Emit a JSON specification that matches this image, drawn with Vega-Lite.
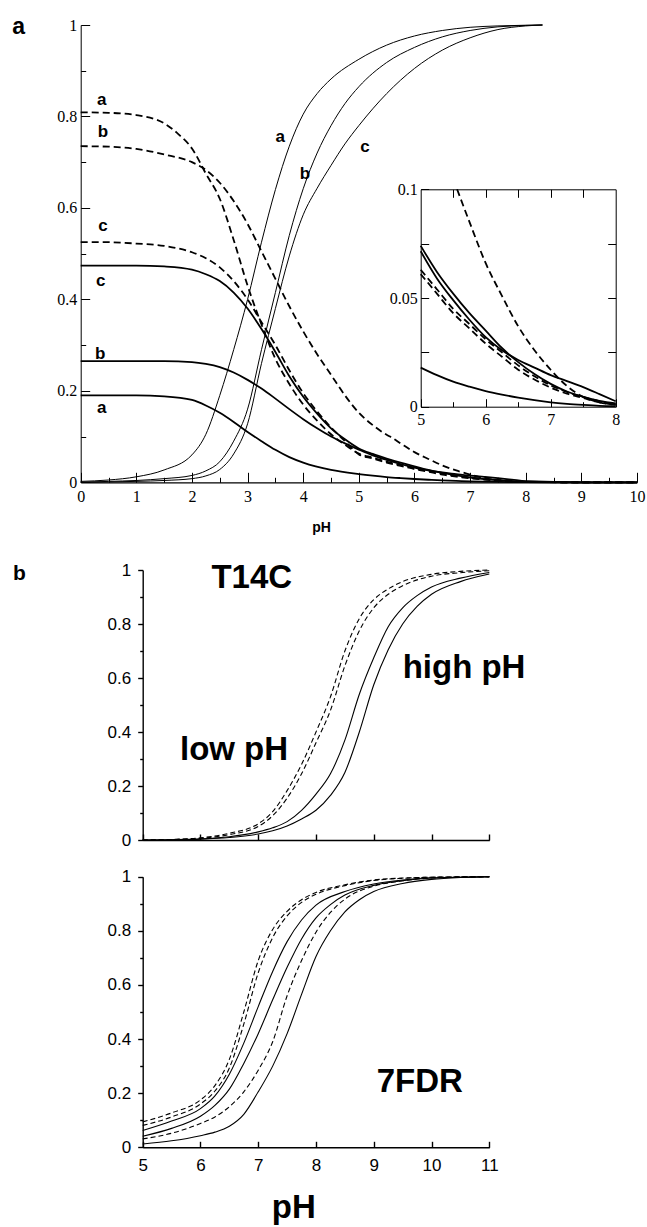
{
"$schema":"https://vega.github.io/schema/vega-lite/v6.json",
"width":647,"height":1227,"autosize":"none","padding":0,"background":"white",
"config":{"view":{"stroke":null},"axis":{"grid":false,"domainColor":"black","tickColor":"black","labelColor":"black","titleColor":"black","labelFlush":false,"labelOverlap":false,"labelBound":false}},
"datasets":{
"pa":[
{"set":"S1","curve":"a","pH":0,"f":0.002},{"set":"S1","curve":"a","pH":0.5,"f":0.005},{"set":"S1","curve":"a","pH":1,"f":0.012},{"set":"S1","curve":"a","pH":1.5,"f":0.027},{"set":"S1","curve":"a","pH":2,"f":0.06},{"set":"S1","curve":"a","pH":2.25,"f":0.105},{"set":"S1","curve":"a","pH":2.5,"f":0.19},{"set":"S1","curve":"a","pH":2.75,"f":0.29},{"set":"S1","curve":"a","pH":3,"f":0.4},{"set":"S1","curve":"a","pH":3.25,"f":0.525},{"set":"S1","curve":"a","pH":3.5,"f":0.64},{"set":"S1","curve":"a","pH":3.75,"f":0.735},{"set":"S1","curve":"a","pH":4,"f":0.805},{"set":"S1","curve":"a","pH":4.25,"f":0.85},{"set":"S1","curve":"a","pH":4.5,"f":0.882},{"set":"S1","curve":"a","pH":5,"f":0.925},{"set":"S1","curve":"a","pH":5.5,"f":0.956},{"set":"S1","curve":"a","pH":6,"f":0.976},{"set":"S1","curve":"a","pH":6.5,"f":0.988},{"set":"S1","curve":"a","pH":7,"f":0.995},{"set":"S1","curve":"a","pH":7.5,"f":0.998},{"set":"S1","curve":"a","pH":8,"f":0.9995},{"set":"S1","curve":"a","pH":8.3,"f":1},
{"set":"S1","curve":"b","pH":0,"f":0},{"set":"S1","curve":"b","pH":0.5,"f":0.002},{"set":"S1","curve":"b","pH":1,"f":0.004},{"set":"S1","curve":"b","pH":1.5,"f":0.008},{"set":"S1","curve":"b","pH":2,"f":0.015},{"set":"S1","curve":"b","pH":2.25,"f":0.025},{"set":"S1","curve":"b","pH":2.5,"f":0.045},{"set":"S1","curve":"b","pH":2.75,"f":0.09},{"set":"S1","curve":"b","pH":3,"f":0.16},{"set":"S1","curve":"b","pH":3.25,"f":0.29},{"set":"S1","curve":"b","pH":3.5,"f":0.415},{"set":"S1","curve":"b","pH":3.75,"f":0.54},{"set":"S1","curve":"b","pH":4,"f":0.642},{"set":"S1","curve":"b","pH":4.25,"f":0.72},{"set":"S1","curve":"b","pH":4.5,"f":0.78},{"set":"S1","curve":"b","pH":4.75,"f":0.828},{"set":"S1","curve":"b","pH":5,"f":0.865},{"set":"S1","curve":"b","pH":5.5,"f":0.918},{"set":"S1","curve":"b","pH":6,"f":0.951},{"set":"S1","curve":"b","pH":6.5,"f":0.974},{"set":"S1","curve":"b","pH":7,"f":0.988},{"set":"S1","curve":"b","pH":7.5,"f":0.996},{"set":"S1","curve":"b","pH":8,"f":0.999},{"set":"S1","curve":"b","pH":8.3,"f":1},
{"set":"S1","curve":"c","pH":0,"f":0},{"set":"S1","curve":"c","pH":1,"f":0.002},{"set":"S1","curve":"c","pH":1.5,"f":0.004},{"set":"S1","curve":"c","pH":2,"f":0.008},{"set":"S1","curve":"c","pH":2.25,"f":0.014},{"set":"S1","curve":"c","pH":2.5,"f":0.028},{"set":"S1","curve":"c","pH":2.75,"f":0.062},{"set":"S1","curve":"c","pH":3,"f":0.128},{"set":"S1","curve":"c","pH":3.25,"f":0.26},{"set":"S1","curve":"c","pH":3.5,"f":0.38},{"set":"S1","curve":"c","pH":3.75,"f":0.495},{"set":"S1","curve":"c","pH":4,"f":0.585},{"set":"S1","curve":"c","pH":4.25,"f":0.643},{"set":"S1","curve":"c","pH":4.5,"f":0.693},{"set":"S1","curve":"c","pH":4.75,"f":0.74},{"set":"S1","curve":"c","pH":5,"f":0.78},{"set":"S1","curve":"c","pH":5.5,"f":0.85},{"set":"S1","curve":"c","pH":6,"f":0.905},{"set":"S1","curve":"c","pH":6.5,"f":0.945},{"set":"S1","curve":"c","pH":7,"f":0.972},{"set":"S1","curve":"c","pH":7.5,"f":0.99},{"set":"S1","curve":"c","pH":8,"f":0.998},{"set":"S1","curve":"c","pH":8.3,"f":1},
{"set":"S2","curve":"a","pH":0,"f":0.19},{"set":"S2","curve":"a","pH":0.5,"f":0.19},{"set":"S2","curve":"a","pH":1,"f":0.19},{"set":"S2","curve":"a","pH":1.5,"f":0.188},{"set":"S2","curve":"a","pH":2,"f":0.18},{"set":"S2","curve":"a","pH":2.25,"f":0.168},{"set":"S2","curve":"a","pH":2.5,"f":0.152},{"set":"S2","curve":"a","pH":2.75,"f":0.132},{"set":"S2","curve":"a","pH":3,"f":0.11},{"set":"S2","curve":"a","pH":3.25,"f":0.09},{"set":"S2","curve":"a","pH":3.5,"f":0.071},{"set":"S2","curve":"a","pH":3.75,"f":0.055},{"set":"S2","curve":"a","pH":4,"f":0.043},{"set":"S2","curve":"a","pH":4.5,"f":0.027},{"set":"S2","curve":"a","pH":5,"f":0.018},{"set":"S2","curve":"a","pH":5.25,"f":0.0145},{"set":"S2","curve":"a","pH":5.5,"f":0.0115},{"set":"S2","curve":"a","pH":5.75,"f":0.0092},{"set":"S2","curve":"a","pH":6,"f":0.0072},{"set":"S2","curve":"a","pH":6.25,"f":0.0056},{"set":"S2","curve":"a","pH":6.5,"f":0.0042},{"set":"S2","curve":"a","pH":6.75,"f":0.003},{"set":"S2","curve":"a","pH":7,"f":0.002},{"set":"S2","curve":"a","pH":7.25,"f":0.0013},{"set":"S2","curve":"a","pH":7.5,"f":0.0008},{"set":"S2","curve":"a","pH":7.75,"f":0.0004},{"set":"S2","curve":"a","pH":8,"f":0.0002},{"set":"S2","curve":"a","pH":9,"f":0},{"set":"S2","curve":"a","pH":10,"f":0},
{"set":"S2","curve":"b","pH":0,"f":0.265},{"set":"S2","curve":"b","pH":1,"f":0.265},{"set":"S2","curve":"b","pH":1.5,"f":0.265},{"set":"S2","curve":"b","pH":2,"f":0.263},{"set":"S2","curve":"b","pH":2.25,"f":0.259},{"set":"S2","curve":"b","pH":2.5,"f":0.252},{"set":"S2","curve":"b","pH":2.75,"f":0.24},{"set":"S2","curve":"b","pH":3,"f":0.224},{"set":"S2","curve":"b","pH":3.25,"f":0.205},{"set":"S2","curve":"b","pH":3.5,"f":0.183},{"set":"S2","curve":"b","pH":3.75,"f":0.16},{"set":"S2","curve":"b","pH":4,"f":0.138},{"set":"S2","curve":"b","pH":4.25,"f":0.118},{"set":"S2","curve":"b","pH":4.5,"f":0.1},{"set":"S2","curve":"b","pH":4.75,"f":0.085},{"set":"S2","curve":"b","pH":5,"f":0.0715},{"set":"S2","curve":"b","pH":5.25,"f":0.059},{"set":"S2","curve":"b","pH":5.5,"f":0.049},{"set":"S2","curve":"b","pH":5.75,"f":0.04},{"set":"S2","curve":"b","pH":6,"f":0.032},{"set":"S2","curve":"b","pH":6.25,"f":0.026},{"set":"S2","curve":"b","pH":6.5,"f":0.0215},{"set":"S2","curve":"b","pH":6.75,"f":0.018},{"set":"S2","curve":"b","pH":7,"f":0.0145},{"set":"S2","curve":"b","pH":7.25,"f":0.0118},{"set":"S2","curve":"b","pH":7.5,"f":0.009},{"set":"S2","curve":"b","pH":7.75,"f":0.0058},{"set":"S2","curve":"b","pH":8,"f":0.0025},{"set":"S2","curve":"b","pH":9,"f":0},{"set":"S2","curve":"b","pH":10,"f":0},
{"set":"S2","curve":"c","pH":0,"f":0.474},{"set":"S2","curve":"c","pH":1,"f":0.474},{"set":"S2","curve":"c","pH":1.5,"f":0.472},{"set":"S2","curve":"c","pH":2,"f":0.465},{"set":"S2","curve":"c","pH":2.25,"f":0.455},{"set":"S2","curve":"c","pH":2.5,"f":0.44},{"set":"S2","curve":"c","pH":2.75,"f":0.415},{"set":"S2","curve":"c","pH":3,"f":0.38},{"set":"S2","curve":"c","pH":3.25,"f":0.335},{"set":"S2","curve":"c","pH":3.5,"f":0.285},{"set":"S2","curve":"c","pH":3.75,"f":0.232},{"set":"S2","curve":"c","pH":4,"f":0.187},{"set":"S2","curve":"c","pH":4.25,"f":0.15},{"set":"S2","curve":"c","pH":4.5,"f":0.118},{"set":"S2","curve":"c","pH":4.75,"f":0.094},{"set":"S2","curve":"c","pH":5,"f":0.074},{"set":"S2","curve":"c","pH":5.25,"f":0.062},{"set":"S2","curve":"c","pH":5.5,"f":0.052},{"set":"S2","curve":"c","pH":5.75,"f":0.043},{"set":"S2","curve":"c","pH":6,"f":0.035},{"set":"S2","curve":"c","pH":6.25,"f":0.027},{"set":"S2","curve":"c","pH":6.5,"f":0.0205},{"set":"S2","curve":"c","pH":6.75,"f":0.015},{"set":"S2","curve":"c","pH":7,"f":0.0105},{"set":"S2","curve":"c","pH":7.25,"f":0.007},{"set":"S2","curve":"c","pH":7.5,"f":0.0045},{"set":"S2","curve":"c","pH":7.75,"f":0.0027},{"set":"S2","curve":"c","pH":8,"f":0.0015},{"set":"S2","curve":"c","pH":9,"f":0},{"set":"S2","curve":"c","pH":10,"f":0},
{"set":"S3","curve":"a","pH":0,"f":0.809},{"set":"S3","curve":"a","pH":0.5,"f":0.808},{"set":"S3","curve":"a","pH":1,"f":0.803},{"set":"S3","curve":"a","pH":1.5,"f":0.785},{"set":"S3","curve":"a","pH":1.75,"f":0.762},{"set":"S3","curve":"a","pH":2,"f":0.73},{"set":"S3","curve":"a","pH":2.25,"f":0.675},{"set":"S3","curve":"a","pH":2.5,"f":0.62},{"set":"S3","curve":"a","pH":2.75,"f":0.53},{"set":"S3","curve":"a","pH":3,"f":0.43},{"set":"S3","curve":"a","pH":3.25,"f":0.345},{"set":"S3","curve":"a","pH":3.5,"f":0.27},{"set":"S3","curve":"a","pH":3.75,"f":0.215},{"set":"S3","curve":"a","pH":4,"f":0.17},{"set":"S3","curve":"a","pH":4.25,"f":0.135},{"set":"S3","curve":"a","pH":4.5,"f":0.105},{"set":"S3","curve":"a","pH":4.75,"f":0.082},{"set":"S3","curve":"a","pH":5,"f":0.063},{"set":"S3","curve":"a","pH":5.25,"f":0.054},{"set":"S3","curve":"a","pH":5.5,"f":0.045},{"set":"S3","curve":"a","pH":5.75,"f":0.038},{"set":"S3","curve":"a","pH":6,"f":0.031},{"set":"S3","curve":"a","pH":6.25,"f":0.025},{"set":"S3","curve":"a","pH":6.5,"f":0.019},{"set":"S3","curve":"a","pH":6.75,"f":0.014},{"set":"S3","curve":"a","pH":7,"f":0.0098},{"set":"S3","curve":"a","pH":7.25,"f":0.0068},{"set":"S3","curve":"a","pH":7.5,"f":0.0045},{"set":"S3","curve":"a","pH":7.75,"f":0.0025},{"set":"S3","curve":"a","pH":8,"f":0.001},{"set":"S3","curve":"a","pH":9,"f":0},{"set":"S3","curve":"a","pH":10,"f":0},
{"set":"S3","curve":"b","pH":0,"f":0.735},{"set":"S3","curve":"b","pH":0.5,"f":0.734},{"set":"S3","curve":"b","pH":1,"f":0.729},{"set":"S3","curve":"b","pH":1.5,"f":0.717},{"set":"S3","curve":"b","pH":2,"f":0.7},{"set":"S3","curve":"b","pH":2.25,"f":0.683},{"set":"S3","curve":"b","pH":2.5,"f":0.655},{"set":"S3","curve":"b","pH":2.75,"f":0.615},{"set":"S3","curve":"b","pH":3,"f":0.565},{"set":"S3","curve":"b","pH":3.25,"f":0.505},{"set":"S3","curve":"b","pH":3.5,"f":0.445},{"set":"S3","curve":"b","pH":3.75,"f":0.385},{"set":"S3","curve":"b","pH":4,"f":0.33},{"set":"S3","curve":"b","pH":4.25,"f":0.28},{"set":"S3","curve":"b","pH":4.5,"f":0.235},{"set":"S3","curve":"b","pH":4.75,"f":0.19},{"set":"S3","curve":"b","pH":5,"f":0.152},{"set":"S3","curve":"b","pH":5.25,"f":0.125},{"set":"S3","curve":"b","pH":5.5,"f":0.104},{"set":"S3","curve":"b","pH":5.56,"f":0.1},{"set":"S3","curve":"b","pH":5.75,"f":0.085},{"set":"S3","curve":"b","pH":6,"f":0.066},{"set":"S3","curve":"b","pH":6.25,"f":0.051},{"set":"S3","curve":"b","pH":6.5,"f":0.037},{"set":"S3","curve":"b","pH":6.75,"f":0.026},{"set":"S3","curve":"b","pH":7,"f":0.017},{"set":"S3","curve":"b","pH":7.25,"f":0.0095},{"set":"S3","curve":"b","pH":7.5,"f":0.0045},{"set":"S3","curve":"b","pH":7.75,"f":0.002},{"set":"S3","curve":"b","pH":8,"f":0.001},{"set":"S3","curve":"b","pH":9,"f":0},{"set":"S3","curve":"b","pH":10,"f":0},
{"set":"S3","curve":"c","pH":0,"f":0.525},{"set":"S3","curve":"c","pH":0.5,"f":0.525},{"set":"S3","curve":"c","pH":1,"f":0.522},{"set":"S3","curve":"c","pH":1.5,"f":0.517},{"set":"S3","curve":"c","pH":2,"f":0.503},{"set":"S3","curve":"c","pH":2.25,"f":0.49},{"set":"S3","curve":"c","pH":2.5,"f":0.47},{"set":"S3","curve":"c","pH":2.75,"f":0.44},{"set":"S3","curve":"c","pH":3,"f":0.4},{"set":"S3","curve":"c","pH":3.25,"f":0.35},{"set":"S3","curve":"c","pH":3.5,"f":0.3},{"set":"S3","curve":"c","pH":3.75,"f":0.245},{"set":"S3","curve":"c","pH":4,"f":0.195},{"set":"S3","curve":"c","pH":4.25,"f":0.155},{"set":"S3","curve":"c","pH":4.5,"f":0.12},{"set":"S3","curve":"c","pH":4.75,"f":0.09},{"set":"S3","curve":"c","pH":5,"f":0.061},{"set":"S3","curve":"c","pH":5.25,"f":0.052},{"set":"S3","curve":"c","pH":5.5,"f":0.043},{"set":"S3","curve":"c","pH":5.75,"f":0.036},{"set":"S3","curve":"c","pH":6,"f":0.029},{"set":"S3","curve":"c","pH":6.25,"f":0.023},{"set":"S3","curve":"c","pH":6.5,"f":0.017},{"set":"S3","curve":"c","pH":6.75,"f":0.0125},{"set":"S3","curve":"c","pH":7,"f":0.0088},{"set":"S3","curve":"c","pH":7.25,"f":0.006},{"set":"S3","curve":"c","pH":7.5,"f":0.004},{"set":"S3","curve":"c","pH":7.75,"f":0.002},{"set":"S3","curve":"c","pH":8,"f":0.0008},{"set":"S3","curve":"c","pH":9,"f":0},{"set":"S3","curve":"c","pH":10,"f":0}
],
"paLabels":[
{"t":"a","pH":0.38,"f":0.836},{"t":"b","pH":0.4,"f":0.765},{"t":"c","pH":0.4,"f":0.56},{"t":"c","pH":0.36,"f":0.44},{"t":"b","pH":0.35,"f":0.281},{"t":"a","pH":0.38,"f":0.162},{"t":"a","pH":3.585,"f":0.756},{"t":"b","pH":4.03,"f":0.674},{"t":"c","pH":5.11,"f":0.734}
],
"pb":[
{"panel":"T14C","model":"low pH","curve":"1","pH":5,"f":0},{"panel":"T14C","model":"low pH","curve":"1","pH":5.5,"f":0.002},{"panel":"T14C","model":"low pH","curve":"1","pH":6,"f":0.008},{"panel":"T14C","model":"low pH","curve":"1","pH":6.5,"f":0.025},{"panel":"T14C","model":"low pH","curve":"1","pH":7,"f":0.06},{"panel":"T14C","model":"low pH","curve":"1","pH":7.25,"f":0.105},{"panel":"T14C","model":"low pH","curve":"1","pH":7.5,"f":0.183},{"panel":"T14C","model":"low pH","curve":"1","pH":7.75,"f":0.28},{"panel":"T14C","model":"low pH","curve":"1","pH":8,"f":0.4},{"panel":"T14C","model":"low pH","curve":"1","pH":8.25,"f":0.53},{"panel":"T14C","model":"low pH","curve":"1","pH":8.5,"f":0.7},{"panel":"T14C","model":"low pH","curve":"1","pH":8.75,"f":0.82},{"panel":"T14C","model":"low pH","curve":"1","pH":9,"f":0.89},{"panel":"T14C","model":"low pH","curve":"1","pH":9.25,"f":0.93},{"panel":"T14C","model":"low pH","curve":"1","pH":9.5,"f":0.957},{"panel":"T14C","model":"low pH","curve":"1","pH":10,"f":0.984},{"panel":"T14C","model":"low pH","curve":"1","pH":10.5,"f":0.995},{"panel":"T14C","model":"low pH","curve":"1","pH":11,"f":1},
{"panel":"T14C","model":"low pH","curve":"2","pH":5,"f":0},{"panel":"T14C","model":"low pH","curve":"2","pH":5.5,"f":0.0015},{"panel":"T14C","model":"low pH","curve":"2","pH":6,"f":0.006},{"panel":"T14C","model":"low pH","curve":"2","pH":6.5,"f":0.02},{"panel":"T14C","model":"low pH","curve":"2","pH":7,"f":0.05},{"panel":"T14C","model":"low pH","curve":"2","pH":7.25,"f":0.09},{"panel":"T14C","model":"low pH","curve":"2","pH":7.5,"f":0.155},{"panel":"T14C","model":"low pH","curve":"2","pH":7.75,"f":0.245},{"panel":"T14C","model":"low pH","curve":"2","pH":8,"f":0.36},{"panel":"T14C","model":"low pH","curve":"2","pH":8.25,"f":0.48},{"panel":"T14C","model":"low pH","curve":"2","pH":8.5,"f":0.645},{"panel":"T14C","model":"low pH","curve":"2","pH":8.75,"f":0.775},{"panel":"T14C","model":"low pH","curve":"2","pH":9,"f":0.86},{"panel":"T14C","model":"low pH","curve":"2","pH":9.25,"f":0.91},{"panel":"T14C","model":"low pH","curve":"2","pH":9.5,"f":0.942},{"panel":"T14C","model":"low pH","curve":"2","pH":10,"f":0.977},{"panel":"T14C","model":"low pH","curve":"2","pH":10.5,"f":0.99},{"panel":"T14C","model":"low pH","curve":"2","pH":11,"f":0.997},
{"panel":"T14C","model":"high pH","curve":"1","pH":5,"f":0},{"panel":"T14C","model":"high pH","curve":"1","pH":5.5,"f":0.001},{"panel":"T14C","model":"high pH","curve":"1","pH":6,"f":0.004},{"panel":"T14C","model":"high pH","curve":"1","pH":6.5,"f":0.012},{"panel":"T14C","model":"high pH","curve":"1","pH":7,"f":0.03},{"panel":"T14C","model":"high pH","curve":"1","pH":7.25,"f":0.045},{"panel":"T14C","model":"high pH","curve":"1","pH":7.5,"f":0.068},{"panel":"T14C","model":"high pH","curve":"1","pH":7.75,"f":0.11},{"panel":"T14C","model":"high pH","curve":"1","pH":8,"f":0.17},{"panel":"T14C","model":"high pH","curve":"1","pH":8.25,"f":0.245},{"panel":"T14C","model":"high pH","curve":"1","pH":8.5,"f":0.37},{"panel":"T14C","model":"high pH","curve":"1","pH":8.75,"f":0.54},{"panel":"T14C","model":"high pH","curve":"1","pH":9,"f":0.675},{"panel":"T14C","model":"high pH","curve":"1","pH":9.25,"f":0.79},{"panel":"T14C","model":"high pH","curve":"1","pH":9.5,"f":0.86},{"panel":"T14C","model":"high pH","curve":"1","pH":9.75,"f":0.905},{"panel":"T14C","model":"high pH","curve":"1","pH":10,"f":0.937},{"panel":"T14C","model":"high pH","curve":"1","pH":10.5,"f":0.97},{"panel":"T14C","model":"high pH","curve":"1","pH":11,"f":0.991},
{"panel":"T14C","model":"high pH","curve":"2","pH":5,"f":0},{"panel":"T14C","model":"high pH","curve":"2","pH":5.5,"f":0.001},{"panel":"T14C","model":"high pH","curve":"2","pH":6,"f":0.003},{"panel":"T14C","model":"high pH","curve":"2","pH":6.5,"f":0.009},{"panel":"T14C","model":"high pH","curve":"2","pH":7,"f":0.022},{"panel":"T14C","model":"high pH","curve":"2","pH":7.25,"f":0.034},{"panel":"T14C","model":"high pH","curve":"2","pH":7.5,"f":0.052},{"panel":"T14C","model":"high pH","curve":"2","pH":7.75,"f":0.078},{"panel":"T14C","model":"high pH","curve":"2","pH":8,"f":0.11},{"panel":"T14C","model":"high pH","curve":"2","pH":8.25,"f":0.165},{"panel":"T14C","model":"high pH","curve":"2","pH":8.5,"f":0.25},{"panel":"T14C","model":"high pH","curve":"2","pH":8.75,"f":0.4},{"panel":"T14C","model":"high pH","curve":"2","pH":9,"f":0.575},{"panel":"T14C","model":"high pH","curve":"2","pH":9.25,"f":0.705},{"panel":"T14C","model":"high pH","curve":"2","pH":9.5,"f":0.8},{"panel":"T14C","model":"high pH","curve":"2","pH":9.75,"f":0.865},{"panel":"T14C","model":"high pH","curve":"2","pH":10,"f":0.91},{"panel":"T14C","model":"high pH","curve":"2","pH":10.5,"f":0.957},{"panel":"T14C","model":"high pH","curve":"2","pH":11,"f":0.985},
{"panel":"7FDR","model":"low pH","curve":"1","pH":5,"f":0.094},{"panel":"7FDR","model":"low pH","curve":"1","pH":5.5,"f":0.127},{"panel":"7FDR","model":"low pH","curve":"1","pH":6,"f":0.175},{"panel":"7FDR","model":"low pH","curve":"1","pH":6.25,"f":0.228},{"panel":"7FDR","model":"low pH","curve":"1","pH":6.5,"f":0.325},{"panel":"7FDR","model":"low pH","curve":"1","pH":6.75,"f":0.5},{"panel":"7FDR","model":"low pH","curve":"1","pH":7,"f":0.69},{"panel":"7FDR","model":"low pH","curve":"1","pH":7.25,"f":0.805},{"panel":"7FDR","model":"low pH","curve":"1","pH":7.5,"f":0.872},{"panel":"7FDR","model":"low pH","curve":"1","pH":7.75,"f":0.915},{"panel":"7FDR","model":"low pH","curve":"1","pH":8,"f":0.942},{"panel":"7FDR","model":"low pH","curve":"1","pH":8.5,"f":0.97},{"panel":"7FDR","model":"low pH","curve":"1","pH":9,"f":0.988},{"panel":"7FDR","model":"low pH","curve":"1","pH":9.5,"f":0.995},{"panel":"7FDR","model":"low pH","curve":"1","pH":10,"f":0.998},{"panel":"7FDR","model":"low pH","curve":"1","pH":11,"f":1},
{"panel":"7FDR","model":"low pH","curve":"2","pH":5,"f":0.081},{"panel":"7FDR","model":"low pH","curve":"2","pH":5.5,"f":0.112},{"panel":"7FDR","model":"low pH","curve":"2","pH":6,"f":0.16},{"panel":"7FDR","model":"low pH","curve":"2","pH":6.25,"f":0.208},{"panel":"7FDR","model":"low pH","curve":"2","pH":6.5,"f":0.293},{"panel":"7FDR","model":"low pH","curve":"2","pH":6.75,"f":0.455},{"panel":"7FDR","model":"low pH","curve":"2","pH":7,"f":0.645},{"panel":"7FDR","model":"low pH","curve":"2","pH":7.25,"f":0.775},{"panel":"7FDR","model":"low pH","curve":"2","pH":7.5,"f":0.855},{"panel":"7FDR","model":"low pH","curve":"2","pH":7.75,"f":0.905},{"panel":"7FDR","model":"low pH","curve":"2","pH":8,"f":0.935},{"panel":"7FDR","model":"low pH","curve":"2","pH":8.5,"f":0.967},{"panel":"7FDR","model":"low pH","curve":"2","pH":9,"f":0.986},{"panel":"7FDR","model":"low pH","curve":"2","pH":9.5,"f":0.994},{"panel":"7FDR","model":"low pH","curve":"2","pH":10,"f":0.998},{"panel":"7FDR","model":"low pH","curve":"2","pH":11,"f":1},
{"panel":"7FDR","model":"low pH","curve":"3","pH":5,"f":0.031},{"panel":"7FDR","model":"low pH","curve":"3","pH":5.5,"f":0.052},{"panel":"7FDR","model":"low pH","curve":"3","pH":6,"f":0.088},{"panel":"7FDR","model":"low pH","curve":"3","pH":6.25,"f":0.112},{"panel":"7FDR","model":"low pH","curve":"3","pH":6.5,"f":0.15},{"panel":"7FDR","model":"low pH","curve":"3","pH":6.75,"f":0.205},{"panel":"7FDR","model":"low pH","curve":"3","pH":7,"f":0.285},{"panel":"7FDR","model":"low pH","curve":"3","pH":7.25,"f":0.39},{"panel":"7FDR","model":"low pH","curve":"3","pH":7.5,"f":0.56},{"panel":"7FDR","model":"low pH","curve":"3","pH":7.75,"f":0.69},{"panel":"7FDR","model":"low pH","curve":"3","pH":8,"f":0.795},{"panel":"7FDR","model":"low pH","curve":"3","pH":8.25,"f":0.868},{"panel":"7FDR","model":"low pH","curve":"3","pH":8.5,"f":0.917},{"panel":"7FDR","model":"low pH","curve":"3","pH":9,"f":0.965},{"panel":"7FDR","model":"low pH","curve":"3","pH":9.5,"f":0.985},{"panel":"7FDR","model":"low pH","curve":"3","pH":10,"f":0.995},{"panel":"7FDR","model":"low pH","curve":"3","pH":11,"f":1},
{"panel":"7FDR","model":"high pH","curve":"1","pH":5,"f":0.062},{"panel":"7FDR","model":"high pH","curve":"1","pH":5.5,"f":0.097},{"panel":"7FDR","model":"high pH","curve":"1","pH":6,"f":0.143},{"panel":"7FDR","model":"high pH","curve":"1","pH":6.25,"f":0.19},{"panel":"7FDR","model":"high pH","curve":"1","pH":6.5,"f":0.27},{"panel":"7FDR","model":"high pH","curve":"1","pH":6.75,"f":0.385},{"panel":"7FDR","model":"high pH","curve":"1","pH":7,"f":0.52},{"panel":"7FDR","model":"high pH","curve":"1","pH":7.25,"f":0.65},{"panel":"7FDR","model":"high pH","curve":"1","pH":7.5,"f":0.76},{"panel":"7FDR","model":"high pH","curve":"1","pH":7.75,"f":0.84},{"panel":"7FDR","model":"high pH","curve":"1","pH":8,"f":0.895},{"panel":"7FDR","model":"high pH","curve":"1","pH":8.5,"f":0.945},{"panel":"7FDR","model":"high pH","curve":"1","pH":9,"f":0.973},{"panel":"7FDR","model":"high pH","curve":"1","pH":9.5,"f":0.988},{"panel":"7FDR","model":"high pH","curve":"1","pH":10,"f":0.996},{"panel":"7FDR","model":"high pH","curve":"1","pH":11,"f":1},
{"panel":"7FDR","model":"high pH","curve":"2","pH":5,"f":0.041},{"panel":"7FDR","model":"high pH","curve":"2","pH":5.5,"f":0.07},{"panel":"7FDR","model":"high pH","curve":"2","pH":6,"f":0.115},{"panel":"7FDR","model":"high pH","curve":"2","pH":6.25,"f":0.155},{"panel":"7FDR","model":"high pH","curve":"2","pH":6.5,"f":0.215},{"panel":"7FDR","model":"high pH","curve":"2","pH":6.75,"f":0.31},{"panel":"7FDR","model":"high pH","curve":"2","pH":7,"f":0.42},{"panel":"7FDR","model":"high pH","curve":"2","pH":7.25,"f":0.545},{"panel":"7FDR","model":"high pH","curve":"2","pH":7.5,"f":0.665},{"panel":"7FDR","model":"high pH","curve":"2","pH":7.75,"f":0.77},{"panel":"7FDR","model":"high pH","curve":"2","pH":8,"f":0.848},{"panel":"7FDR","model":"high pH","curve":"2","pH":8.25,"f":0.897},{"panel":"7FDR","model":"high pH","curve":"2","pH":8.5,"f":0.932},{"panel":"7FDR","model":"high pH","curve":"2","pH":9,"f":0.968},{"panel":"7FDR","model":"high pH","curve":"2","pH":9.5,"f":0.985},{"panel":"7FDR","model":"high pH","curve":"2","pH":10,"f":0.995},{"panel":"7FDR","model":"high pH","curve":"2","pH":11,"f":1},
{"panel":"7FDR","model":"high pH","curve":"3","pH":5,"f":0.012},{"panel":"7FDR","model":"high pH","curve":"3","pH":5.5,"f":0.024},{"panel":"7FDR","model":"high pH","curve":"3","pH":6,"f":0.043},{"panel":"7FDR","model":"high pH","curve":"3","pH":6.25,"f":0.056},{"panel":"7FDR","model":"high pH","curve":"3","pH":6.5,"f":0.078},{"panel":"7FDR","model":"high pH","curve":"3","pH":6.75,"f":0.122},{"panel":"7FDR","model":"high pH","curve":"3","pH":7,"f":0.205},{"panel":"7FDR","model":"high pH","curve":"3","pH":7.25,"f":0.3},{"panel":"7FDR","model":"high pH","curve":"3","pH":7.5,"f":0.42},{"panel":"7FDR","model":"high pH","curve":"3","pH":7.75,"f":0.565},{"panel":"7FDR","model":"high pH","curve":"3","pH":8,"f":0.705},{"panel":"7FDR","model":"high pH","curve":"3","pH":8.25,"f":0.8},{"panel":"7FDR","model":"high pH","curve":"3","pH":8.5,"f":0.87},{"panel":"7FDR","model":"high pH","curve":"3","pH":8.75,"f":0.915},{"panel":"7FDR","model":"high pH","curve":"3","pH":9,"f":0.945},{"panel":"7FDR","model":"high pH","curve":"3","pH":9.5,"f":0.975},{"panel":"7FDR","model":"high pH","curve":"3","pH":10,"f":0.99},{"panel":"7FDR","model":"high pH","curve":"3","pH":10.5,"f":0.997},{"panel":"7FDR","model":"high pH","curve":"3","pH":11,"f":1}
],
"pbText":[
{"panel":"T14C","t":"T14C","pH":6.19,"f":0.934},{"panel":"T14C","t":"high pH","pH":9.5,"f":0.6},{"panel":"T14C","t":"low pH","pH":5.645,"f":0.296},{"panel":"7FDR","t":"7FDR","pH":9.05,"f":0.205}
]
},
"layer":[
{
"encoding":{
"x":{"field":"pH","type":"quantitative","scale":{"domain":[0,10],"range":[80.7,637],"nice":false,"zero":false},
"axis":{"orient":"bottom","offset":-744.7,"values":[0,0.5,1,1.5,2,2.5,3,3.5,4,4.5,5,5.5,6,6.5,7,7.5,8,8.5,9,9.5,10],"format":"~g","labelExpr":"datum.value % 1 === 0 ? datum.label : ''","tickSize":{"condition":{"test":"datum.value % 1 === 0","value":-10},"value":-5},"labelPadding":16,"labelFont":"Liberation Serif","labelFontSize":16,"domainWidth":1.3,"tickWidth":1,"title":"pH","titleFont":"Liberation Sans","titleFontSize":14,"titleFontWeight":"bold","titleX":321,"titleY":49,"titleAlign":"center","titleBaseline":"alphabetic","titleAngle":0}},
"y":{"field":"f","type":"quantitative","scale":{"domain":[0,1],"range":[482.3,25],"nice":false,"zero":false},
"axis":{"orient":"left","offset":-80.7,"values":[0,0.1,0.2,0.3,0.4,0.5,0.6,0.7,0.8,0.9,1],"format":"~g","labelExpr":"abs(datum.value*5-round(datum.value*5))<0.01 ? datum.label : ''","tickSize":{"condition":{"test":"abs(datum.value*5-round(datum.value*5))<0.01","value":-9},"value":-5},"labelPadding":13,"labelFont":"Liberation Serif","labelFontSize":16,"domainWidth":1,"tickWidth":1,"title":"a","titleFont":"Liberation Sans","titleFontSize":23,"titleFontWeight":"bold","titleAngle":0,"titleX":-62.5,"titleY":33,"titleAlign":"center","titleBaseline":"alphabetic"}}
},
"layer":[
{"data":{"name":"pa"},"transform":[{"filter":"datum.set === 'S1'"}],"mark":{"type":"line","color":"black","strokeWidth":1,"interpolate":"monotone"},"encoding":{"detail":{"field":"curve","type":"nominal"}}},
{"data":{"name":"pa"},"transform":[{"filter":"datum.set === 'S2'"}],"mark":{"type":"line","color":"black","strokeWidth":1.8,"interpolate":"monotone"},"encoding":{"detail":{"field":"curve","type":"nominal"}}},
{"data":{"name":"pa"},"transform":[{"filter":"datum.set === 'S3'"}],"mark":{"type":"line","color":"black","strokeWidth":1.8,"strokeDash":[7,4],"interpolate":"monotone"},"encoding":{"detail":{"field":"curve","type":"nominal"}}},
{"data":{"name":"paLabels"},"mark":{"type":"text","font":"Liberation Sans","fontWeight":"bold","fontSize":17,"align":"center","baseline":"middle","color":"black"},"encoding":{"text":{"field":"t","type":"nominal"}}}
]
},
{
"data":{"name":"pa"},
"transform":[{"filter":"datum.set !== 'S1' && datum.pH >= 5 && datum.pH <= 8 && datum.f <= 0.1001"}],
"encoding":{
"x":{"field":"pH","type":"quantitative","scale":{"domain":[5,8],"range":[420.7,615.7],"nice":false,"zero":false},"axis":{"orient":"bottom","offset":-820.3,"values":[5,5.5,6,6.5,7,7.5,8],"format":"~g","labelExpr":"datum.value % 1 === 0 ? datum.label : ''","tickSize":{"condition":{"test":"datum.value % 1 === 0","value":-8},"value":-5},"labelPadding":13,"labelFont":"Liberation Serif","labelFontSize":16,"domainWidth":1,"tickWidth":1,"title":null}},
"y":{"field":"f","type":"quantitative","scale":{"domain":[0,0.1],"range":[406.7,189.3],"nice":false,"zero":false},"axis":{"orient":"left","offset":-420.7,"values":[0,0.025,0.05,0.075,0.1],"format":"~g","labelExpr":"abs(datum.value*20-round(datum.value*20))<0.01 ? datum.label : ''","tickSize":-8,"labelPadding":11.5,"labelFont":"Liberation Serif","labelFontSize":16,"domainWidth":1,"tickWidth":1,"title":null}}
},
"layer":[
{"transform":[{"filter":"datum.set === 'S2'"}],"mark":{"type":"line","color":"black","strokeWidth":1.8,"interpolate":"monotone"},"encoding":{"detail":{"field":"curve","type":"nominal"}}},
{"transform":[{"filter":"datum.set === 'S3'"}],"mark":{"type":"line","color":"black","strokeWidth":1.8,"strokeDash":[7,4],"interpolate":"monotone"},"encoding":{"detail":{"field":"curve","type":"nominal"}}}
]
},
{
"data":{"name":"pa"},
"transform":[{"filter":"datum.set === 'S2' && datum.pH >= 5 && datum.pH <= 8"}],
"mark":{"type":"point","opacity":0},
"encoding":{
"x":{"field":"pH","type":"quantitative","scale":{"domain":[5,8],"range":[420.7,615.7],"nice":false,"zero":false},"axis":{"orient":"top","offset":-189.3,"values":[5.5,6,6.5,7,7.5],"labels":false,"tickSize":-8,"domainWidth":1,"tickWidth":1,"title":null}},
"y":{"field":"f","type":"quantitative","scale":{"domain":[0,0.1],"range":[406.7,189.3],"nice":false,"zero":false},"axis":{"orient":"right","offset":-31.3,"values":[0.025,0.05,0.075],"labels":false,"tickSize":-8,"domainWidth":1,"tickWidth":1,"title":null}}
}
},
{
"encoding":{
"x":{"field":"pH","type":"quantitative","scale":{"domain":[5,11],"range":[142.7,489.3],"nice":false,"zero":false},"axis":{"orient":"bottom","offset":-387,"values":[5,6,7,8,9,10,11],"labels":false,"tickSize":-6,"domainWidth":1.4,"tickWidth":1.4,"title":null}},
"y":{"field":"f","type":"quantitative","scale":{"domain":[0,1],"range":[840,570],"nice":false,"zero":false},"axis":{"orient":"left","offset":-142.7,"values":[0,0.1,0.2,0.3,0.4,0.5,0.6,0.7,0.8,0.9,1],"format":"~g","labelExpr":"abs(datum.value*5-round(datum.value*5))<0.01 ? datum.label : ''","tickSize":{"condition":{"test":"abs(datum.value*5-round(datum.value*5))<0.01","value":5},"value":3},"labelPadding":7,"labelFont":"Liberation Sans","labelFontSize":17,"domainWidth":1.4,"tickWidth":1.4,"title":"b","titleFont":"Liberation Sans","titleFontSize":21,"titleFontWeight":"bold","titleAngle":0,"titleX":-123.9,"titleY":579.3,"titleAlign":"center","titleBaseline":"alphabetic"}}
},
"layer":[
{"data":{"name":"pb"},"transform":[{"filter":"datum.panel === 'T14C' && datum.model === 'low pH'"}],"mark":{"type":"line","color":"black","strokeWidth":1.1,"strokeDash":[5,3],"interpolate":"monotone"},"encoding":{"detail":{"field":"curve","type":"nominal"}}},
{"data":{"name":"pb"},"transform":[{"filter":"datum.panel === 'T14C' && datum.model === 'high pH'"}],"mark":{"type":"line","color":"black","strokeWidth":1.1,"interpolate":"monotone"},"encoding":{"detail":{"field":"curve","type":"nominal"}}},
{"data":{"values":[{}]},"mark":{"type":"rule","color":"black","strokeWidth":1},"encoding":{"x":{"datum":5,"type":"quantitative"},"x2":{"datum":11},"y":{"datum":0.5,"type":"quantitative"}}},
{"data":{"name":"pbText"},"transform":[{"filter":"datum.panel === 'T14C'"}],"mark":{"type":"text","font":"Liberation Sans","fontWeight":"bold","fontSize":33,"align":"left","baseline":"alphabetic","color":"black"},"encoding":{"text":{"field":"t","type":"nominal"}}}
]
},
{
"encoding":{
"x":{"field":"pH","type":"quantitative","scale":{"domain":[5,11],"range":[142.7,489.3],"nice":false,"zero":false},"axis":{"orient":"bottom","offset":-79.7,"values":[5,6,7,8,9,10,11],"format":"~g","tickSize":-6,"labelPadding":16,"labelFont":"Liberation Sans","labelFontSize":17,"domainWidth":1.4,"tickWidth":1.4,"title":"pH","titleFont":"Liberation Sans","titleFontSize":33,"titleFontWeight":"bold","titleX":293.3,"titleY":70,"titleAlign":"center","titleBaseline":"alphabetic","titleAngle":0}},
"y":{"field":"f","type":"quantitative","scale":{"domain":[0,1],"range":[1147.3,876.7],"nice":false,"zero":false},"axis":{"orient":"left","offset":-142.7,"values":[0,0.1,0.2,0.3,0.4,0.5,0.6,0.7,0.8,0.9,1],"format":"~g","labelExpr":"abs(datum.value*5-round(datum.value*5))<0.01 ? datum.label : ''","tickSize":{"condition":{"test":"abs(datum.value*5-round(datum.value*5))<0.01","value":5},"value":3},"labelPadding":7,"labelFont":"Liberation Sans","labelFontSize":17,"domainWidth":1.4,"tickWidth":1.4,"title":null}}
},
"layer":[
{"data":{"name":"pb"},"transform":[{"filter":"datum.panel === '7FDR' && datum.model === 'low pH'"}],"mark":{"type":"line","color":"black","strokeWidth":1.1,"strokeDash":[5,3],"interpolate":"monotone"},"encoding":{"detail":{"field":"curve","type":"nominal"}}},
{"data":{"name":"pb"},"transform":[{"filter":"datum.panel === '7FDR' && datum.model === 'high pH'"}],"mark":{"type":"line","color":"black","strokeWidth":1.1,"interpolate":"monotone"},"encoding":{"detail":{"field":"curve","type":"nominal"}}},
{"data":{"values":[{}]},"mark":{"type":"rule","color":"black","strokeWidth":1.6},"encoding":{"x":{"datum":5,"type":"quantitative"},"x2":{"datum":11},"y":{"datum":0.5,"type":"quantitative"}}},
{"data":{"name":"pbText"},"transform":[{"filter":"datum.panel === '7FDR'"}],"mark":{"type":"text","font":"Liberation Sans","fontWeight":"bold","fontSize":33,"align":"left","baseline":"alphabetic","color":"black"},"encoding":{"text":{"field":"t","type":"nominal"}}}
]
}
],
"resolve":{"scale":{"x":"independent","y":"independent"}}
}
